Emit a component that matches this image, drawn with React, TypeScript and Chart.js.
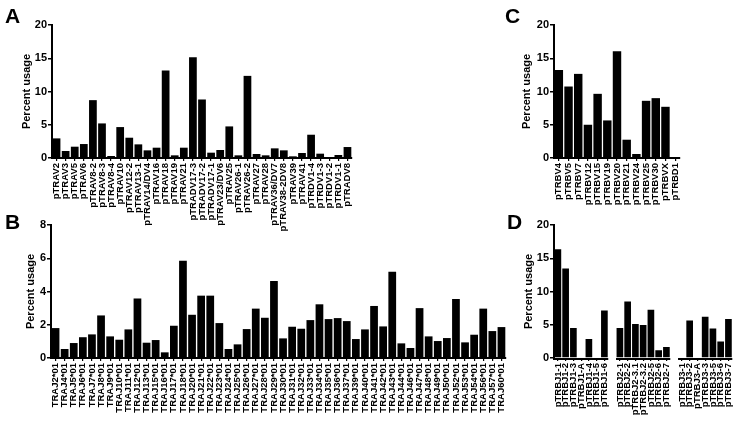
import React, { useEffect, useRef } from 'react';
import { Chart, registerables } from 'chart.js';

Chart.register(...registerables);

const FONT = "'Liberation Sans', Arial, Helvetica, sans-serif";

// ---------- Panel A: TRAV usage ----------
const aLabels = [
  'pTRAV2', 'pTRAV3', 'pTRAV5', 'pTRAV6', 'pTRAV8-2', 'pTRAV8-3', 'pTRAV8-4', 'pTRAV10',
  'pTRAV12-2', 'pTRAV13-1', 'pTRAV14/DV4', 'pTRAV16', 'pTRAV18', 'pTRAV19', 'pTRAV21',
  'pTRADV17-3', 'pTRADV17-2', 'pTRADV17-1', 'pTRAV23/DV6', 'pTRAV25', 'pTRAV26-1',
  'pTRAV26-2', 'pTRAV27', 'pTRAV28', 'pTRAV36/DV7', 'pTRAV38-2DV8', 'pTRAV39', 'pTRAV41',
  'pTRDV1-4', 'pTRDV1-3', 'pTRDV1-2', 'pTRDV1-1', 'pTRADV8',
];
const aValues = [
  2.95, 1.05, 1.7, 2.1, 8.7, 5.2, 0.3, 4.65, 3.05, 2.05, 1.15, 1.55, 13.15, 0.4, 1.55,
  15.15, 8.8, 0.8, 1.2, 4.75, 0.4, 12.35, 0.6, 0.4, 1.45, 1.15, 0.25, 0.75, 3.5, 0.65,
  0.15, 0.45, 1.65,
];
const aTicks = { max: 20, step: 5 };

// ---------- Panel B: TRAJ usage ----------
const bLabels = [
  'TRAJ2*01', 'TRAJ4*01', 'TRAJ5*01', 'TRAJ6*01', 'TRAJ7*01', 'TRAJ8*01', 'TRAJ9*01',
  'TRAJ10*01', 'TRAJ11*01', 'TRAJ12*01', 'TRAJ13*01', 'TRAJ15*01', 'TRAJ16*01', 'TRAJ17*01',
  'TRAJ18*01', 'TRAJ20*01', 'TRAJ21*01', 'TRAJ22*01', 'TRAJ23*01', 'TRAJ24*01', 'TRAJ25*01',
  'TRAJ26*01', 'TRAJ27*01', 'TRAJ28*01', 'TRAJ29*01', 'TRAJ30*01', 'TRAJ31*01', 'TRAJ32*01',
  'TRAJ33*01', 'TRAJ34*01', 'TRAJ35*01', 'TRAJ36*01', 'TRAJ37*01', 'TRAJ39*01', 'TRAJ40*01',
  'TRAJ41*01', 'TRAJ42*01', 'TRAJ43*01', 'TRAJ44*01', 'TRAJ46*01', 'TRAJ47*01', 'TRAJ48*01',
  'TRAJ49*01', 'TRAJ50*01', 'TRAJ52*01', 'TRAJ53*01', 'TRAJ54*01', 'TRAJ56*01', 'TRAJ57*01',
  'TRAJ60*01',
];
const bValues = [
  1.8, 0.54, 0.9, 1.25, 1.42, 2.56, 1.3, 1.1, 1.72, 3.58,
  0.92, 1.08, 0.34, 1.94, 5.85, 2.6, 3.75, 3.75, 2.1, 0.54,
  0.82, 1.74, 2.97, 2.42, 4.63, 1.18, 1.88, 1.76, 2.28, 3.23,
  2.34, 2.4, 2.22, 1.14, 1.72, 3.13, 1.9, 5.19, 0.88, 0.6,
  3.0, 1.3, 1.02, 1.2, 3.55, 0.94, 1.4, 2.97, 1.62, 1.86,
];
const bTicks = { max: 8, step: 2 };

// ---------- Panel C: TRBV usage ----------
const cLabels = [
  'pTRBV4', 'pTRBV5', 'pTRBV7', 'pTRBV12', 'pTRBV15', 'pTRBV19', 'pTRBV20', 'pTRBV21',
  'pTRBV24', 'pTRBV25', 'pTRBV30', 'pTRBVX', 'pTRBD1',
];
const cValues = [13.25, 10.75, 12.65, 5.0, 9.65, 5.65, 16.05, 2.75, 0.6, 8.6, 9.0, 7.7, 0];
const cTicks = { max: 20, step: 5 };

// ---------- Panel D: TRBJ usage ('' = gap between groups) ----------
const dLabels = [
  'pTRBJ1-1', 'pTRBJ1-2', 'pTRBJ1-3', 'pTRBJ1-A', 'pTRBJ1-4', 'pTRBJ1-5', 'pTRBJ1-6', '',
  'pTRBJ2-1', 'pTRBJ2-2', 'pTRBJ2-3.1', 'pTRBJ2-3.2', 'pTRBJ2-5', 'pTRBJ2-6', 'pTRBJ2-7', '',
  'pTRBJ3-1', 'pTRBJ3-2', 'pTRBJ3-A', 'pTRBJ3-3', 'pTRBJ3-5', 'pTRBJ3-6', 'pTRBJ3-7',
];
const dValues: (number | null)[] = [
  16.35, 13.45, 4.5, 0, 2.85, 0, 7.15, null,
  4.5, 8.5, 5.1, 4.95, 7.25, 1.15, 1.65, null,
  0, 5.65, 0, 6.2, 4.45, 2.5, 5.85,
];
const dTicks = { max: 20, step: 5 };

type Spec = {
  labels: string[];
  values: (number | null)[];
  max: number;
  step: number;
  left: number;
  top: number;
  width: number;
  height: number;
  plotLeft: number;
  plotTop: number;
  plotRight: number;
  plotBottom: number;
  titleCenter: number;
  barPct: number;
  segmented?: boolean;
};

const AXIS_W = 2;

const segmentedAxisPlugin = {
  id: 'segAxis',
  afterDraw(chart: any) {
    const opts = chart.options.plugins?.segAxis;
    if (!opts || !opts.enabled) return;
    const labels: string[] = chart.data.labels;
    const xs = chart.scales.x;
    const ctx = chart.ctx;
    const half = (xs.getPixelForValue(1) - xs.getPixelForValue(0)) / 2;
    const y = xs.top + AXIS_W / 2;
    ctx.save();
    ctx.strokeStyle = '#000';
    ctx.lineWidth = AXIS_W;
    let start = -1;
    for (let i = 0; i <= labels.length; i++) {
      const isGap = i === labels.length || labels[i] === '';
      if (!isGap && start < 0) start = i;
      if (isGap && start >= 0) {
        const x0 = start === 0 ? chart.chartArea.left - AXIS_W / 2 : xs.getPixelForValue(start) - half;
        const x1 = xs.getPixelForValue(i - 1) + half;
        ctx.beginPath();
        ctx.moveTo(x0, y);
        ctx.lineTo(x1, y);
        ctx.stroke();
        start = -1;
      }
    }
    ctx.restore();
  },
};

function Panel({ spec }: { spec: Spec }) {
  const ref = useRef<HTMLCanvasElement | null>(null);
  useEffect(() => {
    if (!ref.current) return;
    const s = spec;
    const gapIdx = new Set<number>();
    s.labels.forEach((l, i) => { if (l === '') gapIdx.add(i); });
    const chart = new Chart(ref.current, {
      type: 'bar',
      data: {
        labels: s.labels,
        datasets: [
          {
            data: s.values as any,
            backgroundColor: '#000',
            borderWidth: 0,
            barPercentage: s.barPct,
            categoryPercentage: 1,
          },
        ],
      },
      plugins: [segmentedAxisPlugin],
      options: {
        animation: false,
        responsive: false,
        maintainAspectRatio: false,
        devicePixelRatio: 1,
        layout: {
          padding: { left: 0, top: s.plotTop, right: s.width - s.plotRight, bottom: 0 },
        },
        plugins: {
          legend: { display: false },
          tooltip: { enabled: false },
          segAxis: { enabled: !!s.segmented },
        } as any,
        scales: {
          x: {
            offset: true,
            grid: {
              display: true,
              drawOnChartArea: false,
              drawTicks: true,
              tickLength: 3,
              offset: false,
              lineWidth: 1.2,
              color: (ctx: any) => (gapIdx.has(ctx.index) ? 'rgba(0,0,0,0)' : '#000'),
            },
            border: { display: !s.segmented, color: '#000', width: AXIS_W },
            ticks: {
              autoSkip: false,
              maxRotation: 90,
              minRotation: 90,
              padding: 2,
              color: '#000',
              font: { family: FONT, size: 9.5, weight: 'bold' },
            },
            afterFit: (scale: any) => {
              scale.height = s.height - s.plotBottom;
            },
          } as any,
          y: {
            min: 0,
            max: s.max,
            ticks: {
              stepSize: s.step,
              padding: 1,
              color: '#000',
              font: { family: FONT, size: 11, weight: 'bold' },
            },
            grid: {
              display: true,
              drawOnChartArea: false,
              drawTicks: true,
              tickLength: 4,
              color: '#000',
              lineWidth: 1.5,
            },
            border: { display: true, color: '#000', width: AXIS_W },
            title: {
              display: true,
              text: 'Percent usage',
              color: '#000',
              font: { family: FONT, size: 11, weight: 'bold', lineHeight: 1.2 },
              padding: { top: s.titleCenter - 6.6, bottom: 0 },
            },
            afterFit: (scale: any) => {
              scale.width = s.plotLeft;
            },
          } as any,
        },
      },
    });
    return () => chart.destroy();
  }, [spec]);
  return (
    <canvas
      ref={ref}
      width={spec.width}
      height={spec.height}
      style={{
        position: 'absolute',
        left: spec.left,
        top: spec.top,
        width: spec.width,
        height: spec.height,
      }}
    />
  );
}

const specA: Spec = {
  labels: aLabels, values: aValues, max: aTicks.max, step: aTicks.step,
  left: 0, top: 0, width: 362, height: 240,
  plotLeft: 52, plotTop: 25, plotRight: 352, plotBottom: 158,
  titleCenter: 27, barPct: 0.85,
};
const specB: Spec = {
  labels: bLabels, values: bValues, max: bTicks.max, step: bTicks.step,
  left: 0, top: 200, width: 520, height: 225,
  plotLeft: 51, plotTop: 25, plotRight: 506, plotBottom: 158,
  titleCenter: 30.5, barPct: 0.85,
};
const specC: Spec = {
  labels: cLabels, values: cValues, max: cTicks.max, step: cTicks.step,
  left: 460, top: 0, width: 282, height: 240,
  plotLeft: 94, plotTop: 25, plotRight: 220, plotBottom: 158,
  titleCenter: 67, barPct: 0.87,
};
const specD: Spec = {
  labels: dLabels, values: dValues, max: dTicks.max, step: dTicks.step,
  left: 460, top: 200, width: 282, height: 225,
  plotLeft: 94, plotTop: 25, plotRight: 274, plotBottom: 158,
  titleCenter: 68.5, barPct: 0.86, segmented: true,
};

const letterStyle = (left: number, top: number): React.CSSProperties => ({
  position: 'absolute',
  left,
  top,
  fontFamily: FONT,
  fontWeight: 'bold',
  fontSize: 21,
  lineHeight: '21px',
  color: '#000',
  zIndex: 2,
});

export default function App() {
  return (
    <div
      style={{
        position: 'absolute',
        left: 0,
        top: 0,
        width: 742,
        height: 425,
        background: '#fff',
        overflow: 'hidden',
      }}
    >
      <Panel spec={specA} />
      <Panel spec={specC} />
      <Panel spec={specB} />
      <Panel spec={specD} />
      <div style={letterStyle(5, 5)}>A</div>
      <div style={letterStyle(505, 5)}>C</div>
      <div style={letterStyle(5, 211)}>B</div>
      <div style={letterStyle(507, 211)}>D</div>
    </div>
  );
}
